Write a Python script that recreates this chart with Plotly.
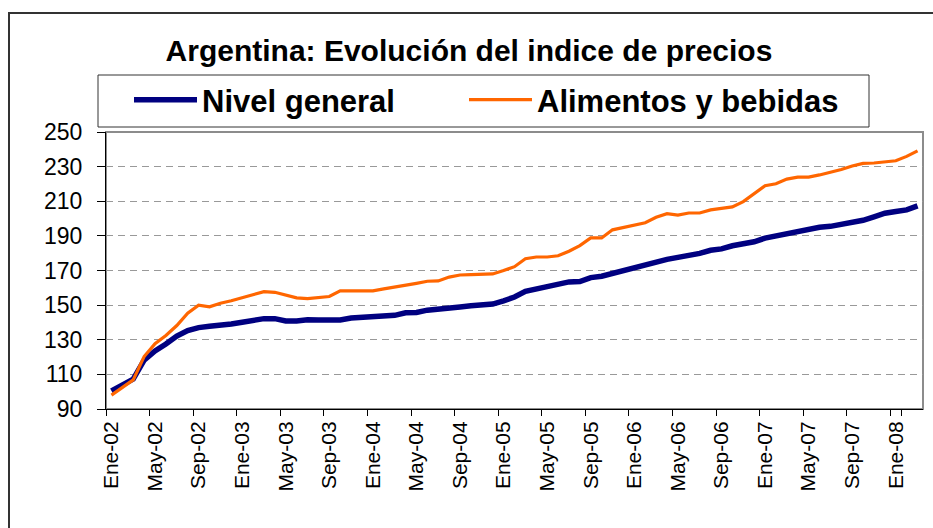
import plotly.graph_objects as go

# ---------------- data ----------------
month_names = ["Ene", "Feb", "Mar", "Abr", "May", "Jun", "Jul", "Ago", "Sep", "Oct", "Nov", "Dic"]
years = ["02", "03", "04", "05", "06", "07", "08"]
categories = [f"{m}-{y}" for y in years for m in month_names][:75]  # Ene-02 .. Mar-08

tick_labels = ["Ene-02", "May-02", "Sep-02", "Ene-03", "May-03", "Sep-03", "Ene-04", "May-04",
               "Sep-04", "Ene-05", "May-05", "Sep-05", "Ene-06", "May-06", "Sep-06", "Ene-07",
               "May-07", "Sep-07", "Ene-08"]

nivel_general = [
    100.5, 104.0, 107.3, 118.2, 123.5, 127.5, 132.1, 135.3, 137.0, 137.8,
    138.2, 139.1, 140.1, 141.0, 142.2, 142.2, 140.9, 140.9, 141.6, 141.4,
    141.4, 141.4, 142.6, 143.0, 143.3, 143.3, 144.1, 145.6, 145.8, 147.1,
    147.5, 147.9, 148.9, 149.6, 149.8, 150.6, 152.5, 154.7, 158.0, 159.3,
    160.5, 161.3, 163.4, 163.6, 165.9, 166.7, 168.4, 170.0, 171.7, 173.3,
    175.2, 176.4, 177.6, 178.5, 179.9, 181.7, 182.5, 184.3, 185.4, 186.6,
    188.7, 190.0, 191.3, 192.5, 193.8, 195.0, 195.5, 196.5, 197.4, 199.0,
    201.0, 203.1, 204.1, 205.0, 207.3,
]

alimentos_bebidas = [
    98.0, 102.4, 106.8, 120.3, 127.7, 132.5, 138.2, 145.4, 150.0, 149.0,
    151.1, 152.5, 154.2, 155.7, 157.8, 157.4, 155.7, 154.2, 153.8, 154.6,
    155.0, 158.2, 158.2, 158.2, 158.2, 159.4, 160.4, 161.2, 162.6, 163.8,
    164.0, 166.2, 167.4, 167.6, 167.6, 168.0, 170.0, 172.2, 176.8, 177.8,
    177.8, 178.5, 181.1, 184.4, 188.8, 188.8, 193.5, 194.9, 196.2, 197.6,
    200.7, 202.8, 202.0, 203.2, 203.2, 205.0, 205.9, 206.7, 209.8, 214.4,
    219.0, 220.1, 222.8, 223.9, 223.9, 225.2, 226.6, 228.3, 230.4, 231.9,
    232.1, 232.9, 233.4, 235.9, 239.1,
]

y_ticks = [90, 110, 130, 150, 170, 190, 210, 230, 250]

# ---------------- figure ----------------
W, H = 933, 528
ML, MR, MT, MB = 106, 10, 132, 119
FONT = "Liberation Sans, Arial, sans-serif"

fig = go.Figure()
fig.add_trace(go.Scatter(
    x=categories, y=nivel_general, mode="lines", name="Nivel general",
    line=dict(color="#000080", width=5.5), legend="legend",
))
fig.add_trace(go.Scatter(
    x=categories, y=alimentos_bebidas, mode="lines", name="Alimentos y bebidas",
    line=dict(color="#FF6600", width=3.2), legend="legend2",
))

pw = W - ML - MR
ph = H - MT - MB


def px_x(p):
    return (p - ML) / pw


def px_y(p):
    return (H - MB - p) / ph


legend_common = dict(
    orientation="h",
    xref="container", yref="container",
    xanchor="left", yanchor="top",
    y=1 - 73 / H,
    bgcolor="rgba(0,0,0,0)", borderwidth=0,
    font=dict(family=FONT, size=31, color="black", weight="bold"),
    itemwidth=63,
)

fig.update_layout(
    width=W, height=H,
    margin=dict(l=ML, r=MR, t=MT, b=MB, pad=0, autoexpand=False),
    paper_bgcolor="white", plot_bgcolor="white",
    font=dict(family=FONT, color="black"),
    title=dict(
        text="Argentina: Evolución del indice de precios",
        font=dict(family=FONT, size=30, color="black", weight="bold"),
        x=469 / W, xanchor="center", xref="container",
        y=1 - 50 / H, yanchor="middle", yref="container",
    ),
    showlegend=True,
    legend=dict(x=129 / W, **legend_common),
    legend2=dict(x=464 / W, **legend_common),
    xaxis=dict(
        type="category", automargin=False,
        categoryorder="array", categoryarray=categories,
        range=[-0.5, len(categories) - 0.5],
        tickmode="array", tickvals=tick_labels, ticktext=tick_labels,
        tickson="boundaries",
        ticks="outside", ticklen=6, tickcolor="black", tickwidth=1,
        tickangle=-90, ticklabelstandoff=3,
        tickfont=dict(family=FONT, size=21, color="black"),
        showgrid=False, zeroline=False,
        showline=True, linecolor="black", linewidth=1,
    ),
    yaxis=dict(
        range=[90, 250], automargin=False,
        tickmode="array", tickvals=y_ticks,
        ticks="outside", ticklen=8, tickcolor="black", tickwidth=1,
        ticklabelstandoff=10,
        tickfont=dict(family=FONT, size=23, color="black"),
        showgrid=True, gridcolor="#999999", gridwidth=1, griddash="7px,5px",
        zeroline=False,
        showline=True, linecolor="black", linewidth=1,
    ),
    shapes=[
        # gray plot-area border
        dict(type="rect", xref="paper", yref="paper", x0=0, x1=1, y0=0, y1=1,
             line=dict(color="#8c8c8c", width=2), fillcolor="rgba(0,0,0,0)", layer="below"),
        # outer chart frame
        dict(type="rect", xref="paper", yref="paper",
             x0=px_x(9), x1=px_x(W + 20), y0=px_y(H + 30), y1=px_y(13),
             line=dict(color="#333333", width=2), fillcolor="rgba(0,0,0,0)", layer="below"),
        # legend box
        dict(type="rect", xref="paper", yref="paper",
             x0=px_x(98), x1=px_x(869), y0=px_y(127), y1=px_y(75),
             line=dict(color="#333333", width=1), fillcolor="white", layer="below"),
    ],
)

fig.write_html("out.html", config={"displayModeBar": False})

# remove the browser's default 8px body margin so the figure sits at the page origin
with open("out.html", "r", encoding="utf-8") as f:
    html = f.read()
html = html.replace("<head>", "<head><style>html,body{margin:0;padding:0;overflow:hidden;}</style>", 1)
with open("out.html", "w", encoding="utf-8") as f:
    f.write(html)
